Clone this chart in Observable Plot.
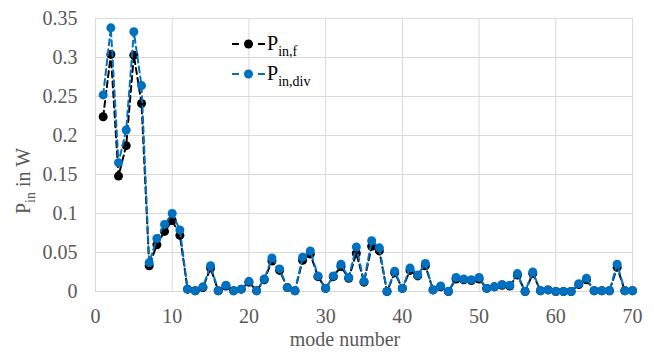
<!DOCTYPE html>
<html>
<head>
<meta charset="utf-8">
<script src="https://cdn.jsdelivr.net/npm/d3@7"></script>
<script src="https://cdn.jsdelivr.net/npm/@observablehq/plot@0.6"></script>
<style>
  html, body { margin: 0; padding: 0; background: #fff; }
  #chart { width: 654px; height: 354px; }
</style>
</head>
<body>
<div id="chart"></div>
<script>
const modes = [1,2,3,4,5,6,7,8,9,10,11,12,13,14,15,16,17,18,19,20,21,22,23,24,25,26,27,28,29,30,31,32,33,34,35,36,37,38,39,40,41,42,43,44,45,46,47,48,49,50,51,52,53,54,55,56,57,58,59,60,61,62,63,64,65,66,67,68,69,70];
const pinF = [0.224,0.304,0.148,0.187,0.303,0.241,0.033,0.060,0.077,0.091,
  0.072,0.003,0.001,0.005,0.030,0.001,0.007,0.001,0.003,0.012,
  0.001,0.015,0.039,0.027,0.005,0.001,0.040,0.048,0.019,0.004,
  0.019,0.032,0.017,0.049,0.012,0.058,0.052,0.000,0.024,0.004,
  0.027,0.020,0.033,0.002,0.006,0.000,0.016,0.015,0.014,0.016,
  0.004,0.006,0.008,0.007,0.021,0.000,0.023,0.001,0.002,0.000,
  0.000,0.000,0.009,0.015,0.001,0.001,0.001,0.031,0.001,0.001];
const pinDiv = [0.252,0.338,0.165,0.207,0.333,0.264,0.037,0.068,0.086,0.100,
  0.079,0.003,0.001,0.006,0.033,0.001,0.008,0.001,0.003,0.013,
  0.001,0.016,0.043,0.029,0.005,0.001,0.044,0.052,0.020,0.004,
  0.020,0.035,0.018,0.057,0.013,0.065,0.056,0.000,0.026,0.004,
  0.030,0.021,0.036,0.002,0.007,0.000,0.018,0.016,0.015,0.018,
  0.004,0.006,0.009,0.008,0.023,0.000,0.025,0.001,0.002,0.000,
  0.000,0.000,0.010,0.017,0.001,0.001,0.001,0.035,0.001,0.001];
const xTicks = [0,10,20,30,40,50,60,70];
const yTicks = [0,0.05,0.1,0.15,0.2,0.25,0.3,0.35];

const dataF = modes.map((m, i) => ({mode: m, p: pinF[i]}));
const dataDiv = modes.map((m, i) => ({mode: m, p: pinDiv[i]}));

const black = "#000000";
const blue = "#0070C0";
const gray = "#595959";
const font = "'Liberation Serif', 'Times New Roman', serif";

const plot = Plot.plot({
  width: 654,
  height: 354,
  marginLeft: 95,
  marginRight: 22,
  marginTop: 18,
  marginBottom: 63,
  style: {fontFamily: font, background: "#fff"},
  x: {domain: [0, 70]},
  y: {domain: [0, 0.35]},
  marks: [
    Plot.gridX(xTicks, {stroke: "#d9d9d9", strokeOpacity: 1, strokeWidth: 1}),
    Plot.gridY(yTicks, {stroke: "#d9d9d9", strokeOpacity: 1, strokeWidth: 1}),
    Plot.axisX(xTicks, {tickSize: 0, tickPadding: 17, fontSize: 20, color: gray, label: null}),
    Plot.axisY(yTicks, {tickSize: 0, tickPadding: 18, fontSize: 20, color: gray, label: null, tickFormat: d => String(d)}),
    Plot.line(dataF, {x: "mode", y: "p", stroke: black, strokeWidth: 2, strokeDasharray: "6,4"}),
    Plot.dot(dataF, {x: "mode", y: "p", r: 4.5, fill: black, stroke: "none"}),
    Plot.line(dataDiv, {x: "mode", y: "p", stroke: blue, strokeWidth: 2, strokeDasharray: "6,4"}),
    Plot.dot(dataDiv, {x: "mode", y: "p", r: 4.5, fill: blue, stroke: "none"})
  ]
});

document.getElementById("chart").appendChild(plot);

const svg = d3.select(plot);

// y axis title with subscript
const yt = svg.append("text")
  .attr("transform", "translate(30,181) rotate(-90)")
  .attr("text-anchor", "middle")
  .attr("fill", gray)
  .style("font-family", font)
  .style("font-size", "20px");
yt.append("tspan").text("P");
yt.append("tspan").attr("dy", 5).style("font-size", "14px").text("in");
yt.append("tspan").attr("dy", -5).text(" in W");

// x axis title
svg.append("text")
  .attr("x", 345).attr("y", 346)
  .attr("text-anchor", "middle")
  .attr("fill", gray)
  .style("font-family", font)
  .style("font-size", "20px")
  .text("mode number");

// legend
const legendItems = [
  {color: black, sub: "in,f", y: 44},
  {color: blue, sub: "in,div", y: 74}
];
legendItems.forEach(item => {
  const g = svg.append("g");
  g.append("line").attr("x1", 232).attr("x2", 239).attr("y1", item.y).attr("y2", item.y)
    .attr("stroke", item.color).attr("stroke-width", 2);
  g.append("line").attr("x1", 258).attr("x2", 265).attr("y1", item.y).attr("y2", item.y)
    .attr("stroke", item.color).attr("stroke-width", 2);
  g.append("circle").attr("cx", 248.5).attr("cy", item.y).attr("r", 4.5).attr("fill", item.color);
  const t = g.append("text")
    .attr("x", 267).attr("y", item.y + 6)
    .attr("text-anchor", "start")
    .attr("fill", "#000")
    .style("font-family", font)
    .style("font-size", "20px");
  t.append("tspan").text("P");
  t.append("tspan").attr("dy", 6).style("font-size", "14px").text(item.sub);
});
</script>
</body>
</html>
